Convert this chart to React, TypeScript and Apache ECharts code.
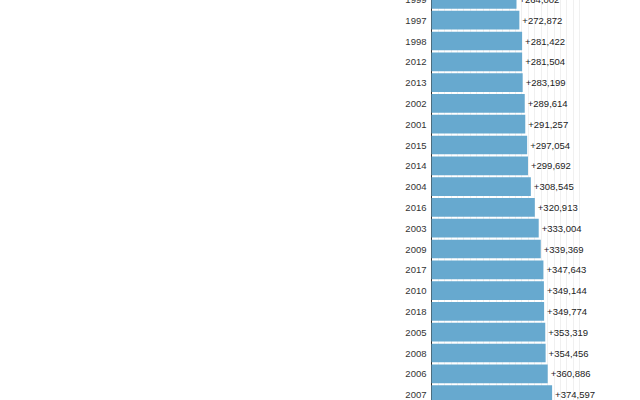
import React, { useEffect, useRef } from "react";
import * as echarts from "echarts";

const years = ["1999","1997","1998","2012","2013","2002","2001","2015","2014","2004","2016","2003","2009","2017","2010","2018","2005","2008","2006","2007"];
const values = [264002,272872,281422,281504,283199,289614,291257,297054,299692,308545,320913,333004,339369,347643,349144,349774,353319,354456,360886,374597];

export default function App() {
  const ref = useRef<HTMLDivElement>(null);
  useEffect(() => {
    document.body.style.margin = "0";
    document.body.style.overflow = "hidden";
    const chart = echarts.init(ref.current!, null, { renderer: "svg" });
    chart.setOption({
      animation: false,
      backgroundColor: "#ffffff",
      grid: { left: 431.5, right: 60.4, top: 0, bottom: 0, containLabel: false },
      xAxis: {
        type: "value",
        min: 0,
        max: 460000,
        interval: 20000,
        axisLabel: { show: false },
        axisLine: { show: false },
        axisTick: { show: false },
        splitLine: { show: true, lineStyle: { color: "#f0f0f0", width: 1 } },
      },
      yAxis: {
        type: "category",
        data: years,
        inverse: true,
        axisLine: { show: true, lineStyle: { color: "#333333", width: 1 } },
        axisTick: { show: false },
        axisLabel: { color: "#333333", fontSize: 9.5, fontFamily: "Liberation Sans, Arial, sans-serif", margin: 5 },
        splitLine: { show: false },
      },
      series: [
        {
          type: "bar",
          data: values,
          barCategoryGap: "10%",
          itemStyle: { color: "#67a9cf" },
          label: {
            show: true,
            position: "right",
            distance: 3,
            color: "#222222",
            fontSize: 9.5,
            fontFamily: "Liberation Sans, Arial, sans-serif",
            formatter: (p: any) => "+" + Number(p.value).toLocaleString("en-US"),
          },
        },
      ],
    });
    return () => chart.dispose();
  }, []);
  return <div ref={ref} style={{ position: "fixed", left: 0, top: -11, width: 640, height: 416 }} />;
}
